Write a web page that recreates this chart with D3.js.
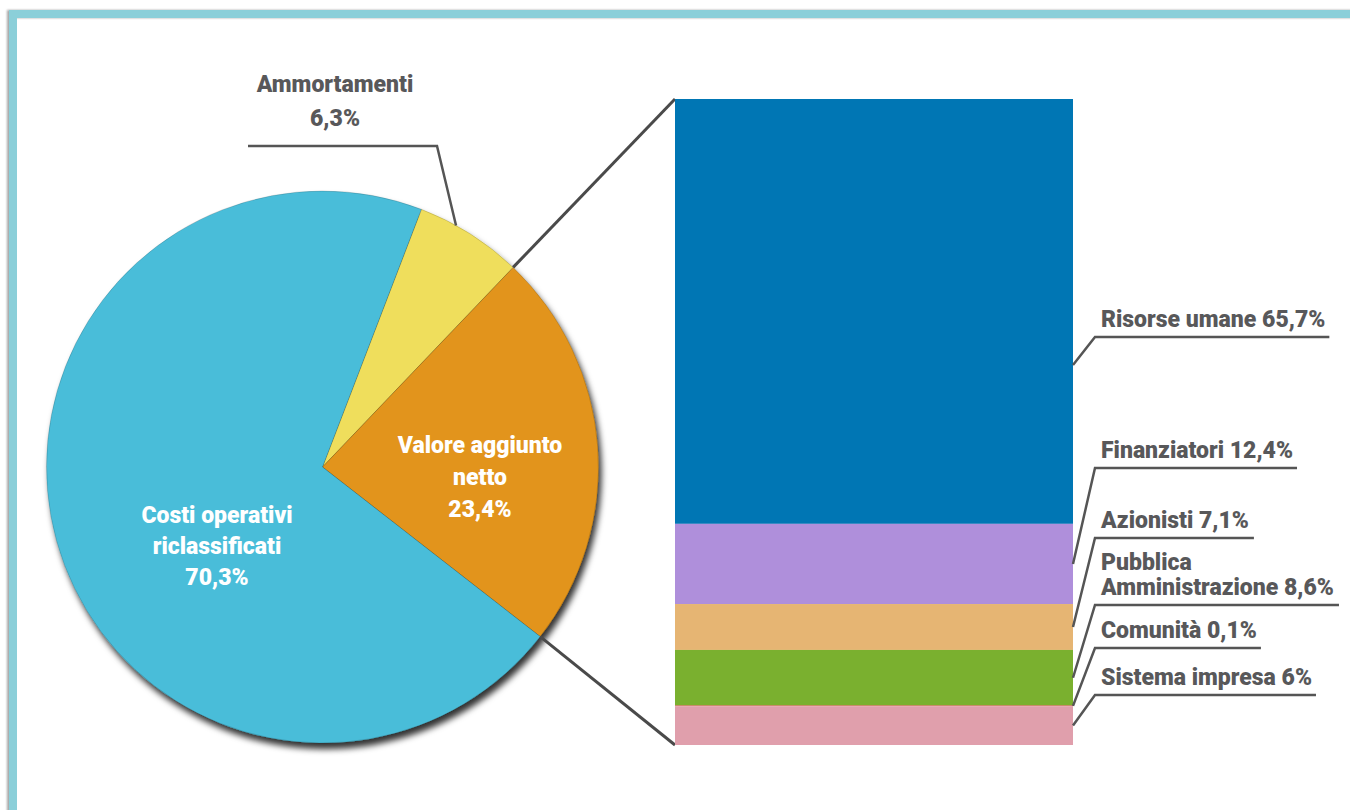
<!DOCTYPE html>
<html>
<head>
<meta charset="utf-8">
<script src="https://cdn.jsdelivr.net/npm/d3@7"></script>
<style>
  html, body { margin: 0; padding: 0; background: #fff; }
  svg { display: block; }
  .lbl { font-family: Roboto, "Liberation Sans", Arial, sans-serif; font-weight: 900; font-size: 23px; }
</style>
</head>
<body>
<svg id="chart" width="1350" height="810"></svg>
<script>
// Composition of revenue (pie) and distribution of the net added value (stacked bar)
const pieNames = ["Ammortamenti", "Valore aggiunto netto", "Costi operativi riclassificati"];
const pieValues = [6.3, 23.4, 70.3];
const pieLabelLines = [["Ammortamenti", "6,3%"], ["Valore aggiunto", "netto", "23,4%"], ["Costi operativi", "riclassificati", "70,3%"]];
const pieColors = ["#EFDE5B", "#E2941A", "#4ABDD9"];

const barNames = ["Risorse umane", "Finanziatori", "Azionisti", "Pubblica Amministrazione", "Comunità", "Sistema impresa"];
const barValues = [65.7, 12.4, 7.1, 8.6, 0.1, 6];
const barLabelLines = [["Risorse umane 65,7%"], ["Finanziatori 12,4%"], ["Azionisti 7,1%"], ["Pubblica", "Amministrazione 8,6%"], ["Comunità 0,1%"], ["Sistema impresa 6%"]];
const barColors = ["#0076B4", "#AF8FDB", "#E6B573", "#7AB02F", "#E0373E", "#E09FAC"];

// layout
const W = 1350, H = 810;
const cx = 322.5, cy = 467, R = 276;
const startDeg = 21;
const barX0 = 675, barX1 = 1073, barY0 = 99, barY1 = 745;
const labelX = 1101, elbowX = 1095;
const labelLineY = [337, 468, 538, 605, 648, 695];
const textColor = "#58585A";
const leaderColor = "#555555";

const svg = d3.select("#chart");
const defs = svg.append("defs");

const pieShadow = defs.append("filter").attr("id", "pieShadow")
  .attr("x", "-10%").attr("y", "-10%").attr("width", "125%").attr("height", "125%");
pieShadow.append("feDropShadow").attr("dx", 3).attr("dy", 6).attr("stdDeviation", 3)
  .attr("flood-color", "#000").attr("flood-opacity", 0.8);

const frameShadow = defs.append("filter").attr("id", "frameShadow")
  .attr("x", "-5%").attr("y", "-5%").attr("width", "110%").attr("height", "110%");
frameShadow.append("feDropShadow").attr("dx", -2).attr("dy", 0).attr("stdDeviation", 1.2)
  .attr("flood-color", "#000").attr("flood-opacity", 0.35);

// frame
svg.append("rect")
  .attr("x", 13).attr("y", 14).attr("width", W + 40).attr("height", H + 40)
  .attr("fill", "none").attr("stroke", "#8BCFD9").attr("stroke-width", 8)
  .attr("filter", "url(#frameShadow)");

// pie
const pieData = pieValues.map((v, i) => ({ name: pieNames[i], value: v, lines: pieLabelLines[i], color: pieColors[i] }));
const pie = d3.pie().sort(null).value(d => d.value)
  .startAngle(startDeg * Math.PI / 180)
  .endAngle(startDeg * Math.PI / 180 + 2 * Math.PI);
const arcs = pie(pieData);
const arc = d3.arc().innerRadius(0).outerRadius(R);
const pointAt = (a, r) => [cx + r * Math.sin(a), cy - r * Math.cos(a)];

const gPie = svg.append("g").attr("transform", `translate(${cx},${cy})`);
gPie.append("g").attr("filter", "url(#pieShadow)")
  .selectAll("path").data(arcs).join("path")
  .attr("d", arc).attr("fill", d => d.data.color)
  .attr("stroke", "rgba(0,0,0,0.25)").attr("stroke-width", 0.6);

// stacked bar
const total = d3.sum(barValues);
const y = d3.scaleLinear().domain([0, total]).range([barY0, barY1]);
let acc = 0;
const barData = barValues.map((v, i) => {
  const d = { name: barNames[i], value: v, lines: barLabelLines[i], color: barColors[i], y0: acc, y1: acc + v };
  acc += v;
  return d;
});

// connectors from the value-added slice to the bar
const va = arcs[1];
const pTop = pointAt(va.startAngle, R);
const pBot = pointAt(va.endAngle, R);
svg.append("line").attr("x1", pTop[0]).attr("y1", pTop[1]).attr("x2", barX0).attr("y2", y(0))
  .attr("stroke", "#4a4a4a").attr("stroke-width", 3);
svg.append("line").attr("x1", pBot[0]).attr("y1", pBot[1]).attr("x2", barX0).attr("y2", y(total))
  .attr("stroke", "#4a4a4a").attr("stroke-width", 3);

svg.append("g").selectAll("rect").data(barData).join("rect")
  .attr("x", barX0).attr("width", barX1 - barX0)
  .attr("y", d => y(d.y0)).attr("height", d => y(d.y1) - y(d.y0))
  .attr("fill", d => d.color);

// pie labels inside slices
const innerLabel = (d, x, yBase, lh) => {
  const t = svg.append("text").attr("class", "lbl").attr("fill", "#fff").attr("text-anchor", "middle");
  d.data.lines.forEach((l, k) => t.append("tspan").attr("x", x).attr("y", yBase + k * lh).text(l));
};
innerLabel(arcs[1], 480, 453, 32);
innerLabel(arcs[2], 217, 523, 31);

// Ammortamenti label with leader
const am = arcs[0];
const amAngle = am.startAngle + 0.35 * (am.endAngle - am.startAngle);
const amP = pointAt(amAngle, R);
svg.append("polyline")
  .attr("points", [[248, 146], [437, 146], amP].map(p => p.join(",")).join(" "))
  .attr("fill", "none").attr("stroke", leaderColor).attr("stroke-width", 2.5);
const amText = svg.append("text").attr("class", "lbl").attr("fill", textColor).attr("text-anchor", "middle");
am.data.lines.forEach((l, k) => amText.append("tspan").attr("x", 335).attr("y", 92 + k * 34).text(l));

// bar labels with leaders
const gLab = svg.append("g");
barData.forEach((d, i) => {
  const ly = labelLineY[i];
  const mid = (y(d.y0) + y(d.y1)) / 2;
  const anchorY = Math.max(mid, ly + 28);
  const t = gLab.append("text").attr("class", "lbl").attr("fill", textColor);
  const n = d.lines.length;
  d.lines.forEach((l, k) => t.append("tspan").attr("x", labelX).attr("y", ly - 10 - (n - 1 - k) * 25).text(l));
  const w = t.node().getBBox().width;
  gLab.append("polyline")
    .attr("points", [[barX1, anchorY], [elbowX, ly], [labelX + w + 4, ly]].map(p => p.join(",")).join(" "))
    .attr("fill", "none").attr("stroke", leaderColor).attr("stroke-width", 2.5);
});
</script>
</body>
</html>
